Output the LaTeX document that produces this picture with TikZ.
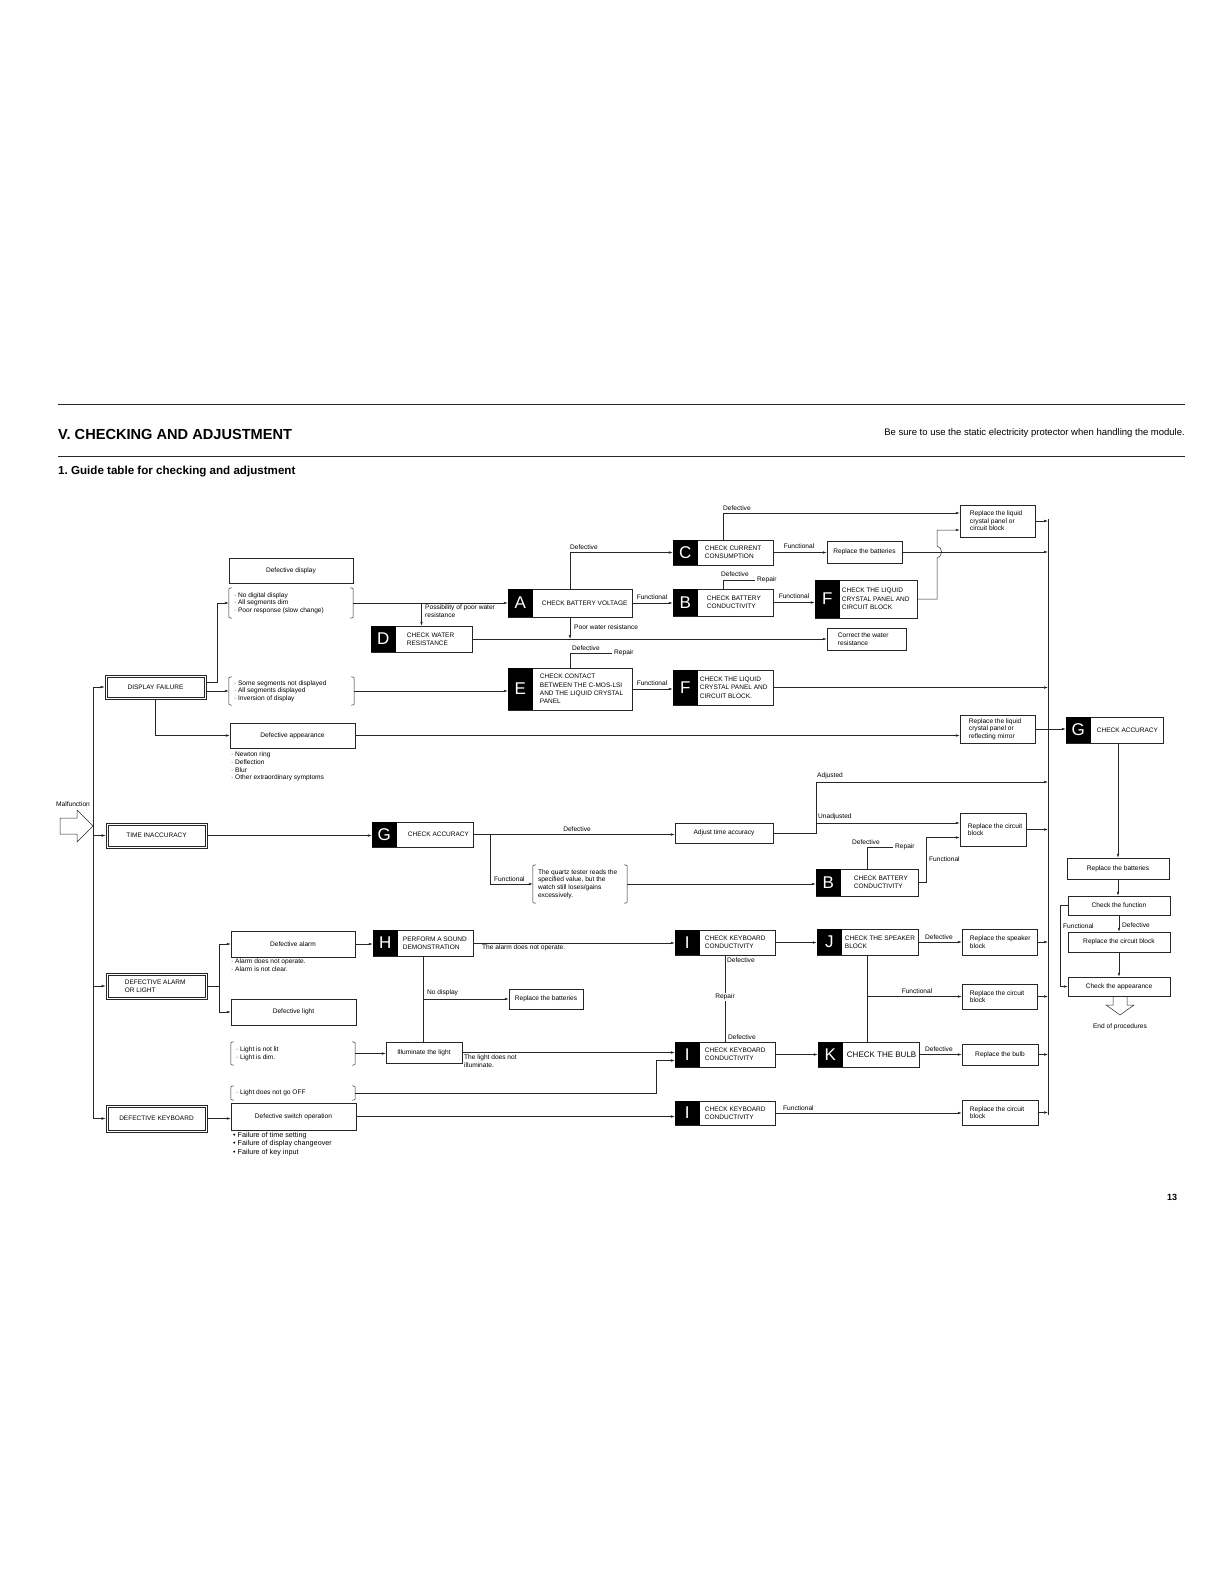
\documentclass[tikz,border=0pt]{standalone}
\usepackage{fontspec}
\setmainfont{Liberation Sans}
\usetikzlibrary{arrows.meta,fit,calc}
\tikzset{
 ln/.style={line width=0.5pt, draw=black!85},
 arr/.style={ln, -{Latex[length=4pt,width=2.6pt]}},
 lbl/.style={font=\fontsize{6.6}{7.6}\selectfont, inner sep=0pt, align=left},
 captxt/.style={font=\fontsize{6.5}{8.3}\selectfont, inner sep=0pt, align=left},
 bx/.style={draw=black!85, line width=0.5pt, inner sep=0pt},
}
\newcommand\cbox[6]{\node[bx, fit={(#2,#3)(#4,#5)}] (#1) {};
 \node[lbl, align=center] (#1t) at (#1.center) {#6};}
\newcommand\wbox[7]{\node[bx, fit={(#2,#3)(#4,#5)}] (#1) {};
 \node[lbl, anchor=west] (#1t) at ([xshift=#6pt]#1.west) {#7};}
\newcommand\dblbox[5]{\node[bx, line width=0.6pt, fit={(#2,#3)(#4,#5)}] (#1) {};
 \draw[ln, line width=0.45pt] ([xshift=2.2pt,yshift=-2.2pt]#1.north west) rectangle ([xshift=-2.2pt,yshift=2.2pt]#1.south east);}
\newcommand\kbox[8]{\node[bx, fit={(#2,#3)(#4,#5)}] (#1) {};
 \fill[black] (#1.north west) rectangle ([xshift=25pt]#1.south west);
 \node[font=\fontsize{17}{17}\selectfont, text=white, inner sep=0pt] (#1l) at ([xshift=12.5pt]#1.west) {#6};
 \node[captxt, anchor=west] (#1t) at ([xshift=25pt,xshift=#7pt]#1.west) {#8};}
\newcommand\brbox[6]{\node[fit={(#2,#3)(#4,#5)}, inner sep=0pt] (#1) {};
 \draw[ln] ([xshift=3pt]#1.north west) .. controls (#1.north west) .. ([yshift=-4pt]#1.north west) -- ([yshift=4pt]#1.south west) .. controls (#1.south west) .. ([xshift=3pt]#1.south west);
 \draw[ln] ([xshift=-3pt]#1.north east) .. controls (#1.north east) .. ([yshift=-4pt]#1.north east) -- ([yshift=4pt]#1.south east) .. controls (#1.south east) .. ([xshift=-3pt]#1.south east);
 \node[lbl, anchor=west] (#1t) at ([xshift=5pt]#1.west) {#6};}
\begin{document}
\begin{tikzpicture}[x=1pt,y=-1pt]
\useasboundingbox (0,0) rectangle (1225,1585);
% header
\draw[ln, line width=0.7pt] (58,404) -- (1185,404);
\draw[ln, line width=0.7pt] (58,456) -- (1185,456);
\node[anchor=west, font=\bfseries\fontsize{14.6}{14.6}\selectfont, inner sep=0pt] (title) at (58,434) {V.\ CHECKING AND ADJUSTMENT};
\node[anchor=east, font=\fontsize{9.5}{9.5}\selectfont, inner sep=0pt] (note) at (1185,433) {Be sure to use the static electricity protector when handling the module.};
\node[anchor=west, font=\bfseries\fontsize{11.6}{11.6}\selectfont, inner sep=0pt] (sub) at (58,472) {1.\ Guide table for checking and adjustment};
\node[font=\bfseries\fontsize{9}{9}\selectfont] (pg) at (1172,1197) {13};

% left column
\cbox{dd}{229}{558}{353}{583}{Defective display}
\brbox{bra}{229}{588}{353}{618}{· No digital display\\· All segments dim\\· Poor response (slow change)}
\dblbox{df}{105}{675}{206}{699}
\node[captxt] (dft) at (df.center) {DISPLAY FAILURE};
\brbox{brb}{229}{677}{354}{705}{· Some segments not displayed\\· All segments displayed\\· Inversion of display}
\cbox{da}{230}{723}{355}{748}{Defective appearance}
\node[lbl, anchor=north west] (dab) at (231,752) {· Newton ring\\· Deflection\\· Blur\\· Other extraordinary symptoms};

\node[lbl] (mal) at (73,804) {Malfunction};
\draw[ln, fill=white] (60,818) -- (77,818) -- (77,810) -- (93,826) -- (77,842) -- (77,834) -- (60,834) -- cycle;
\coordinate (lt) at (93,687);
\coordinate (lb) at (93,1119);
\draw[ln] (lt) -- (lb);

\dblbox{ti}{106}{823}{207}{848}
\node[captxt] (tit) at (ti.center) {TIME INACCURACY};
\dblbox{dal}{106}{973}{207}{999}
\node[captxt, anchor=west] (dalt) at ([xshift=19pt]dal.west) {DEFECTIVE ALARM\\OR LIGHT};
\dblbox{dk}{106}{1105}{207}{1132}
\node[captxt] (dkt) at (dk.center) {DEFECTIVE KEYBOARD};

\cbox{dalm}{231}{931}{355}{957}{Defective alarm}
\node[lbl, anchor=north west] (dalmb) at (231,959) {· Alarm does not operate.\\· Alarm is not clear.};
\cbox{dl}{231}{999}{356}{1025}{Defective light}
\brbox{brc}{231}{1042}{355}{1065}{· Light is not lit\\· Light is dim.}
\brbox{brd}{231}{1086}{355}{1100}{· Light does not go OFF}
\cbox{dso}{231}{1103}{356}{1130}{Defective switch operation}
\node[lbl, font=\fontsize{7.2}{8.5}\selectfont, anchor=north west] (dsob) at (233,1132) {• Failure of time setting\\• Failure of display changeover\\• Failure of key input};

% middle / right top
\kbox{A}{508}{589}{632}{617}{A}{9}{CHECK BATTERY VOLTAGE}
\kbox{D}{371}{626}{472}{652}{D}{11}{CHECK WATER\\RESISTANCE}
\kbox{E}{508}{668}{632}{710}{E}{7}{CHECK CONTACT\\BETWEEN THE C-MOS-LSI\\AND THE LIQUID CRYSTAL\\PANEL}
\kbox{C}{673}{540}{773}{565}{C}{7}{CHECK CURRENT\\CONSUMPTION}
\kbox{B}{673}{589}{773}{616}{B}{9}{CHECK BATTERY\\CONDUCTIVITY}
\kbox{Fa}{815}{580}{917}{618}{F}{2}{CHECK THE LIQUID\\CRYSTAL PANEL AND\\CIRCUIT BLOCK}
\kbox{Fb}{673}{670}{773}{705}{F}{2}{CHECK THE LIQUID\\CRYSTAL PANEL AND\\CIRCUIT BLOCK.}
\wbox{rla}{960}{505}{1035}{537}{10}{Replace the liquid\\crystal panel or\\circuit block}
\cbox{rba}{827}{541}{902}{563}{Replace the batteries}
\wbox{cw}{827}{628}{906}{650}{11}{Correct the water\\resistance}
\wbox{rlm}{960}{715}{1035}{743}{9}{Replace the liquid\\crystal panel or\\reflecting mirror}
\kbox{Gb}{1066}{717}{1163}{743}{G}{6}{CHECK ACCURACY}
\cbox{rbb}{1067}{858}{1169}{879}{Replace the batteries}
\cbox{cf}{1068}{896}{1170}{915}{Check the function}
\cbox{rcb}{1068}{932}{1170}{952}{Replace the circuit block}
\cbox{ca}{1068}{977}{1170}{996}{Check the appearance}
\draw[ln] (1113,996) -- (1113,1005) -- (1106,1005) -- (1120,1015) -- (1134,1005) -- (1127,1005) -- (1127,996);
\node[lbl] (eop) at (1120,1027) {End of procedures};

% time row
\kbox{Ga}{372}{822}{473}{847}{G}{11}{CHECK ACCURACY}
\cbox{ata}{675}{823}{773}{843}{Adjust time accuracy}
\brbox{brq}{533}{865}{627}{903}{The quartz tester reads the\\specified value, but the\\watch still loses/gains\\excessively.}
\wbox{rct}{960}{813}{1026}{846}{8}{Replace the circuit\\block}
\kbox{Bb}{816}{869}{918}{896}{B}{13}{CHECK BATTERY\\CONDUCTIVITY}

% alarm rows
\kbox{H}{373}{930}{473}{956}{H}{5}{PERFORM A SOUND\\DEMONSTRATION}
\cbox{rbc}{509}{989}{583}{1009}{Replace the batteries}
\cbox{il}{386}{1042}{462}{1063}{Illuminate the light}
\kbox{Ia}{675}{930}{775}{955}{I}{5}{CHECK KEYBOARD\\CONDUCTIVITY}
\kbox{Ib}{675}{1042}{775}{1067}{I}{5}{CHECK KEYBOARD\\CONDUCTIVITY}
\kbox{Ic}{675}{1101}{775}{1125}{I}{5}{CHECK KEYBOARD\\CONDUCTIVITY}
\kbox{J}{817}{929}{918}{955}{J}{3}{CHECK THE SPEAKER\\BLOCK}
\kbox{K}{818}{1042}{919}{1067}{K}{4}{\fontsize{8}{8}\selectfont CHECK THE BULB}
\wbox{rsb}{962}{929}{1037}{955}{8}{Replace the speaker\\block}
\wbox{rcc}{962}{984}{1037}{1009}{8}{Replace the circuit\\block}
\cbox{rbl}{962}{1044}{1038}{1065}{Replace the bulb}
\wbox{rcd}{962}{1100}{1038}{1125}{8}{Replace the circuit\\block}

% right rail
\coordinate (rt) at (1048,519);
\coordinate (rbot) at (1048,1115);
\draw[ln] (rt) -- (rbot);

% connectors: display failure
\draw[arr] (lt |- df.west) -- (df.west);
\draw[arr] ([yshift=5pt]df.east) -- ++(11,0) |- (bra.west);
\draw[arr] (df.east |- brb.west) -- (brb.west);
\draw[arr] (df.south) |- (da.west);
\draw[arr] (bra.east) -- (bra.east -| A.west);
\draw[arr] (D.north |- bra.east) -- (D.north);
\node[lbl, anchor=north west] (pwr) at (425,605) {Possibility of poor water\\resistance};
\draw[arr] (A.south) -- (A.south |- D.east);
\node[lbl, anchor=west] (pwrl) at (574,627) {Poor water resistance};
\draw[arr] (D.east) -- (D.east -| cw.west);
\draw[arr] (A.north) |- (C.west);
\node[lbl, anchor=south west] (l1) at (570,550) {Defective};
\draw[arr] (A.east) -- (A.east -| B.west);
\node[lbl, anchor=south] (l2) at (652,600) {Functional};
\draw[arr] (C.north) |- ([yshift=8pt]rla.west);
\node[lbl, anchor=south west] (l3) at (723,511) {Defective};
\draw[arr] (C.east) -- (C.east -| rba.west);
\node[lbl, anchor=south] (l4) at (799,549) {Functional};
\draw[arr] (rba.east) -- (rba.east -| rt);
\draw[arr] (rla.east) -- (rla.east -| rt);
\coordinate (brp1) at (755,580);
\draw[ln] (B.north) |- (brp1);
\node[lbl, anchor=west] (l5) at (757,580) {Repair};
\node[lbl, anchor=south west] (l6) at (721,577) {Defective};
\draw[arr] (B.east) -- (B.east -| Fa.west);
\node[lbl, anchor=south] (l7) at (794,599) {Functional};
\draw[arr] (Fa.east) -- (937,599) -- (937,558) .. controls (943,557) and (943,547) .. (937,546) -- (937,530) -- ([yshift=-9pt]rla.west);
\draw[arr] (brb.east) -- (brb.east -| E.west);
\coordinate (erp) at (612,653);
\draw[ln] (E.north) |- (erp);
\node[lbl, anchor=west] (l8r) at (614,653) {Repair};
\node[lbl, anchor=south west] (l8) at (572,651) {Defective};
\draw[arr] (E.east) -- (E.east -| Fb.west);
\node[lbl, anchor=south] (l9) at (652,686) {Functional};
\draw[arr] (Fb.east) -- (Fb.east -| rt);
\draw[arr] (da.east) -- (da.east -| rlm.west);
\draw[arr] (rlm.east) -- (rlm.east -| Gb.west);
\draw[arr] (rbb.north |- Gb.south) -- (rbb.north);
\draw[arr] (rbb.south) -- (rbb.south |- cf.north);
\draw[arr] (cf.south) -- (cf.south |- rcb.north);
\node[lbl, anchor=west] (l10) at (1122,925) {Defective};
\draw[arr] (rcb.south) -- (rcb.south |- ca.north);
\draw[arr] (cf.west) -- ++(-8,0) |- (ca.west);
\node[lbl, anchor=west] (l11) at (1063,926) {Functional};

% connectors: time
\draw[arr] (lt |- ti.west) -- (ti.west);
\draw[arr] (ti.east) -- (ti.east -| Ga.west);
\draw[arr] (Ga.east) -- (Ga.east -| ata.west);
\node[lbl, anchor=south] (l12) at (577,832) {Defective};
\draw[arr] ([xshift=17pt]Ga.east) |- (brq.west);
\node[lbl, anchor=south west] (l13) at (494,882) {Functional};
\draw[arr] (brq.east) -- (brq.east -| Bb.west);
\coordinate (adj) at (1048,782);
\draw[arr] (ata.east) -- (816,833) -- (816,782) -- (adj);
\draw[arr] (816,823) -- ([yshift=6.5pt]rct.west);
\node[lbl, anchor=south west] (l14) at (817,779) {Adjusted};
\node[lbl, anchor=south west] (l15) at (818,820) {Unadjusted};
\draw[arr] (rct.east) -- (rct.east -| rt);
\coordinate (brp2) at (893,847);
\draw[ln] (Bb.north) |- (brp2);
\node[lbl, anchor=west] (l16) at (895,847) {Repair};
\node[lbl, anchor=south west] (l17) at (852,845) {Defective};
\draw[arr] (Bb.east) -- ++(8,0) |- ([yshift=-8pt]rct.west);
\node[lbl, anchor=west] (l18) at (929,859) {Functional};

% connectors: alarm / light / keyboard
\draw[arr] (lt |- dal.west) -- (dal.west);
\draw[arr] (dal.east) -- ++(12,0) |- (dalm.west);
\draw[arr] (dal.east) -- ++(12,0) |- (dl.west);
\draw[arr] (dalm.east) -- (dalm.east -| H.west);
\draw[arr] (H.east) -- (H.east -| Ia.west);
\node[lbl, anchor=north west] (l19) at (482,945) {The alarm does not operate.};
\draw[ln] (H.south) -- (H.south |- il.north);
\draw[arr] (H.south |- rbc.west) -- (rbc.west);
\node[lbl, anchor=south west] (l20) at (427,996) {No display};
\draw[arr] (brc.east) -- (brc.east -| il.west);
\draw[arr] (il.east) -- (il.east -| Ib.west);
\node[lbl, anchor=north west] (l21) at (464,1055) {The light does not\\illuminate.};
\draw[arr] (brd.east) -- (656,1093) |- ([yshift=-6pt]Ib.west);
\draw[arr] (lt |- dk.west) -- (dk.west);
\draw[arr] (dk.east) -- (dk.east -| dso.west);
\draw[arr] (dso.east) -- (dso.east -| Ic.west);
\draw[arr] (Ia.east) -- (Ia.east -| J.west);
\draw[ln] (Ia.south) -- (Ia.south |- Ib.north);
\node[lbl, anchor=west] (l22) at (727,960) {Defective};
\node[lbl, fill=white, inner sep=1pt] (l23) at (725,997) {Repair};
\node[lbl, anchor=west] (l24) at (728,1037) {Defective};
\draw[arr] (J.east) -- (J.east -| rsb.west);
\node[lbl, anchor=south west] (l25) at (925,940) {Defective};
\draw[ln] (J.south) -- (J.south |- K.north);
\draw[arr] (J.south |- rcc.west) -- (rcc.west);
\node[lbl, anchor=south] (l26) at (917,994) {Functional};
\draw[arr] (Ib.east) -- (Ib.east -| K.west);
\draw[arr] (K.east) -- (K.east -| rbl.west);
\node[lbl, anchor=south west] (l27) at (925,1052) {Defective};
\draw[arr] (Ic.east) -- (Ic.east -| rcd.west);
\node[lbl, anchor=south west] (l28) at (783,1111) {Functional};
\draw[arr] (rsb.east) -- (rsb.east -| rt);
\draw[arr] (rcc.east) -- (rcc.east -| rt);
\draw[arr] (rbl.east) -- (rbl.east -| rt);
\draw[arr] (rcd.east) -- (rcd.east -| rt);
\end{tikzpicture}
\end{document}
